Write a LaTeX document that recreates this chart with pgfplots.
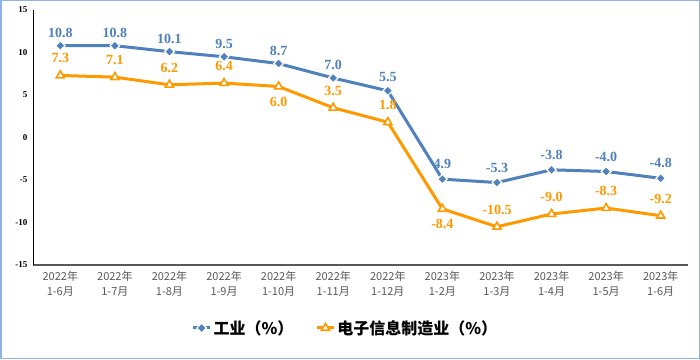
\documentclass[border=0pt]{standalone}
\usepackage{pgfplots}
\pgfplotsset{compat=1.18}
\usepackage{fontspec}
\setmainfont{Liberation Serif}
\newfontfamily\cjk{Noto Sans CJK SC}
\definecolor{cblue}{RGB}{79,129,189}
\definecolor{corange}{RGB}{255,153,0}
\definecolor{cframe}{RGB}{141,180,226}
\definecolor{ctick}{RGB}{89,89,89}
\begin{document}
\begin{tikzpicture}[x=1bp,y=1bp]
\useasboundingbox (0,0) rectangle (700,359);
\fill[white] (0,0) rectangle (700,359);
\draw[cframe, line width=1.5bp] (0.75,0.75) rectangle (699.25,358.25);
\begin{axis}[
  at={(33bp,94bp)}, anchor=south west,
  scale only axis, width=655bp, height=255bp,
  xmin=-0.5, xmax=11.5, ymin=-15, ymax=15,
  axis x line*=bottom, axis y line*=left,
  x axis line style={ctick, line width=1.4bp, -},
  y axis line style={black, line width=1bp, -},
  major tick length=0pt,
  clip=false,
  xtick={0,...,11},
  xticklabels={{2022年\\1-6月},{2022年\\1-7月},{2022年\\1-8月},{2022年\\1-9月},{2022年\\1-10月},{2022年\\1-11月},{2022年\\1-12月},{2023年\\1-2月},{2023年\\1-3月},{2023年\\1-4月},{2023年\\1-5月},{2023年\\1-6月}},
  xticklabel style={font=\cjk\fontsize{11bp}{15bp}\selectfont, text=ctick, align=center, yshift=-3bp},
  ytick={-15,-10,...,15},
  yticklabel style={font=\bfseries\fontsize{9bp}{10bp}\selectfont, xshift=-2bp},
  /pgf/number format/assume math mode=true,
  legend columns=2,
  legend style={at={(0.477,-0.247)}, anchor=center, draw=none, fill=none,
    font=\cjk\bfseries\fontsize{16bp}{18bp}\selectfont,
    /tikz/every even column/.append style={column sep=20bp}},
]
\addplot[cblue, line width=3bp, mark=square*, mark size=3.4bp,
  mark options={rotate=45, fill=cblue, draw=white, line width=1.2bp, solid},
  nodes near coords, point meta=explicit symbolic,
  visualization depends on={\thisrow{dy} \as \dy},
  every node near coord/.append style={anchor=center, yshift=\dy bp, text=cblue, font=\bfseries\fontsize{14bp}{16bp}\selectfont}]
  table[x=x, y=y, meta=lab] {
x y lab dy
0 10.8 10.8 13
1 10.8 10.8 13
2 10.1 10.1 13
3 9.5 9.5 13
4 8.7 8.7 13
5 7.0 7.0 13
6 5.5 5.5 14
7 -4.9 4.9 15
8 -5.3 -5.3 15
9 -3.8 -3.8 15
10 -4.0 -4.0 15
11 -4.8 -4.8 15
};
\addlegendentry{工业（\%）}
\addplot[corange, line width=3bp, mark=triangle*, mark size=4.6bp,
  mark options={fill=white, draw=corange, line width=1.6bp, solid},
  nodes near coords, point meta=explicit symbolic,
  visualization depends on={\thisrow{dy} \as \dy},
  every node near coord/.append style={anchor=center, yshift=\dy bp, text=corange, font=\bfseries\fontsize{14bp}{16bp}\selectfont}]
  table[x=x, y=y, meta=lab] {
x y lab dy
0 7.3 7.3 17
1 7.1 7.1 17
2 6.2 6.2 17
3 6.4 6.4 17
4 6.0 6.0 -15
5 3.5 3.5 17
6 1.8 1.8 17
7 -8.4 -8.4 -15
8 -10.5 -10.5 17
9 -9.0 -9.0 17
10 -8.3 -8.3 17
11 -9.2 -9.2 17
};
\addlegendentry{电子信息制造业（\%）}
\end{axis}
\end{tikzpicture}
\end{document}
